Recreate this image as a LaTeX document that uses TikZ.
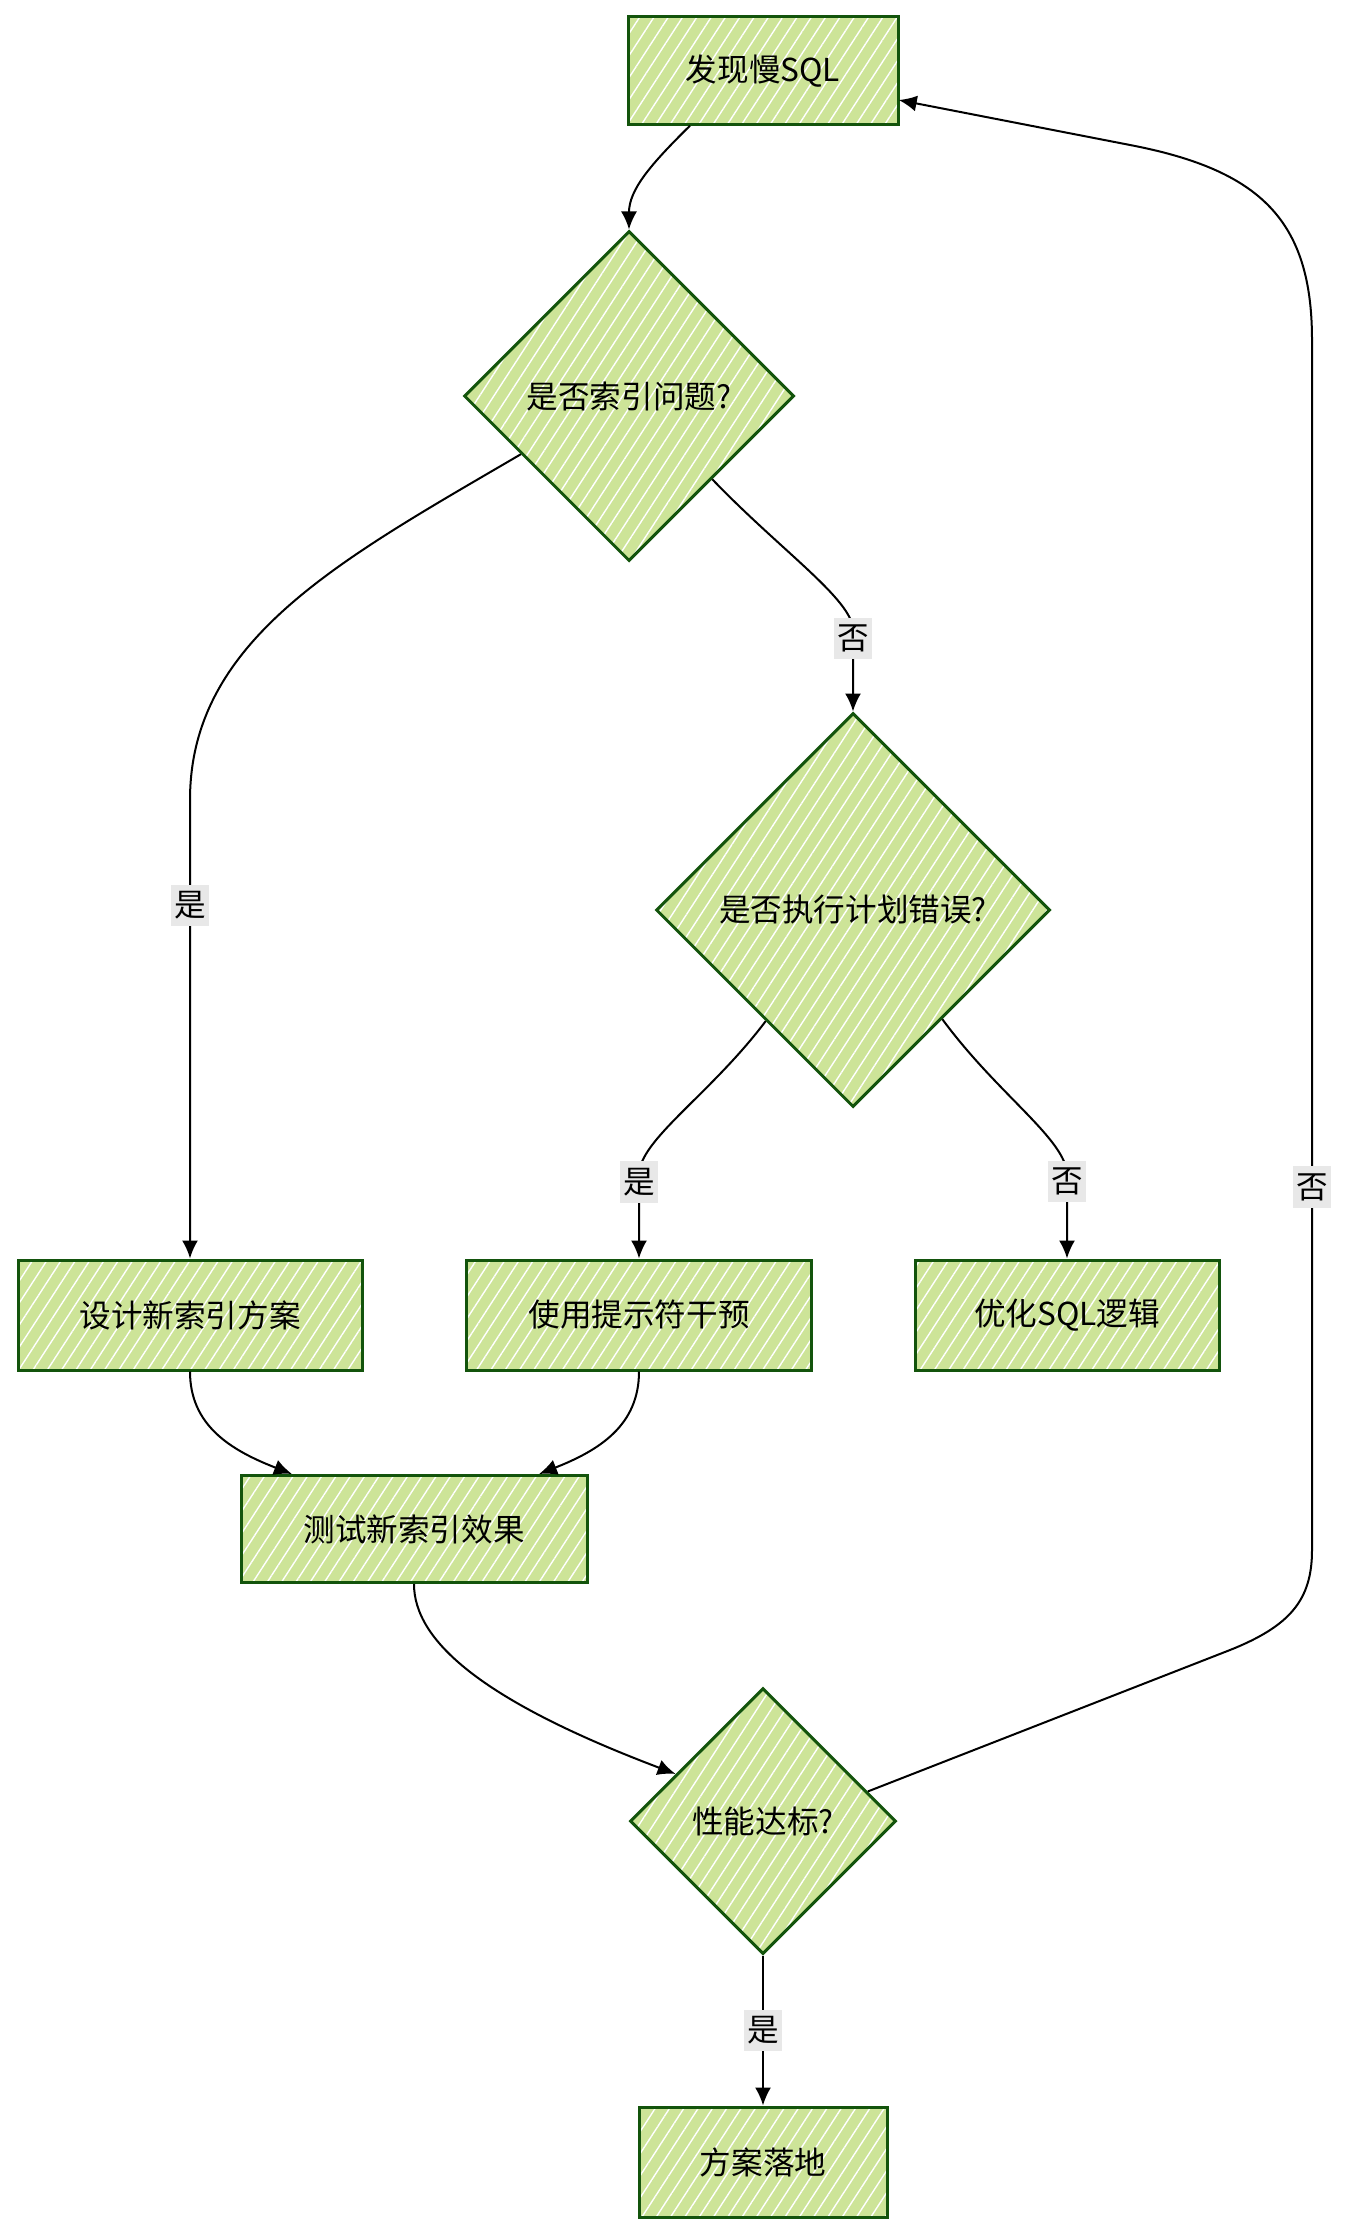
\documentclass[tikz,border=0pt]{standalone}
\usepackage{fontspec}
\setmainfont{Noto Sans CJK SC}
\usetikzlibrary{arrows,arrows.meta,positioning,shapes.geometric,calc,patterns.meta}
\definecolor{leaf}{HTML}{CDE498}
\definecolor{leafline}{HTML}{13540C}
\definecolor{answerfill}{HTML}{E8E8E8}
\tikzset{
  hatch/.style={preaction={fill=leaf}, pattern={Lines[angle=57,distance=6pt,line width=0.7pt]}, pattern color=white},
  flowbox/.style={rectangle, draw=leafline, line width=1.5pt, hatch, minimum height=55pt, inner sep=2pt},
  decision/.style={diamond, aspect=1, draw=leafline, line width=1.5pt, hatch, inner sep=0pt},
  answer/.style={fill=answerfill, inner xsep=1.5pt, inner ysep=3.5pt},
  link/.style={draw, line width=1pt, -{Latex[length=9pt,width=8pt]}}
}

\begin{document}
\begin{tikzpicture}[x=0.5pt, y=-0.5pt, font=\fontsize{15.8}{19}\selectfont]
        \useasboundingbox (0,0) rectangle (1346,2236);
        %nodes
        \node[flowbox, minimum width=135pt, minimum height=54pt] (find) at (763, 71) {发现慢SQL};
        \node[decision, minimum size=165pt] (isidx) at (629, 396) {是否索引问题?};
        \node[decision, minimum size=197pt] (isplan) at (853, 910) {是否执行计划错误?};
        \node[flowbox, minimum width=172pt] (design) at (190, 1315) {设计新索引方案};
        \node[flowbox, minimum width=172.5pt] (hint) at (639, 1315) {使用提示符干预};
        \node[flowbox, minimum width=152pt] (rewrite) at (1067, 1315) {优化SQL逻辑};
        \node[flowbox, minimum width=173pt, minimum height=53.5pt] (test) at (414, 1529) {测试新索引效果};
        \node[decision, minimum size=133pt] (perf) at (763, 1821) {性能达标?};
        \node[flowbox, minimum width=124pt] (done) at (763, 2162) {方案落地};
        %edges
        \path [link] ($(find.south)+(-73,0)$) .. controls (650,165) and (629,190) .. (isidx.north);
        \path [link] ($(isidx.west)!0.35!(isidx.south)$) .. controls (340,560) and (190,640) .. (190,800)
              -- node[answer, pos=0.23]{是} (design.north);
        \path [link] (isidx.south east) .. controls (780,550) and (853,600) .. (853,630)
              -- node[answer, pos=0.1]{否} (isplan.north);
        \path [link] ($(isplan.west)!0.56!(isplan.south)$) .. controls (710,1095) and (639,1140) .. (639,1175)
              -- node[answer, pos=0.08]{是} (hint.north);
        \path [link] ($(isplan.south)!0.45!(isplan.east)$) .. controls (998,1095) and (1067,1140) .. (1067,1175)
              -- node[answer, pos=0.08]{否} (rewrite.north);
        \path [link] (design.south) .. controls (190,1425) and (230,1450) .. ($(test.north)+(-122,0)$);
        \path [link] (hint.south) .. controls (639,1425) and (600,1450) .. ($(test.north)+(125,0)$);
        \path [link] (test.south) .. controls (414,1640) and (480,1700) .. ($(perf.west)!0.35!(perf.north)$);
        \path [link] ($(perf.north)!0.78!(perf.east)$) -- (1230,1650) .. controls (1290,1626) and (1312,1600) .. (1312,1550)
              -- node[answer, pos=0.30]{否} (1312,340) .. controls (1312,220) and (1260,170) .. (1130,145)
              -- ($(find.east)+(0,29)$);
        \path [link] (perf.south) -- node[answer]{是} (done.north);
      \end{tikzpicture}
\end{document}
